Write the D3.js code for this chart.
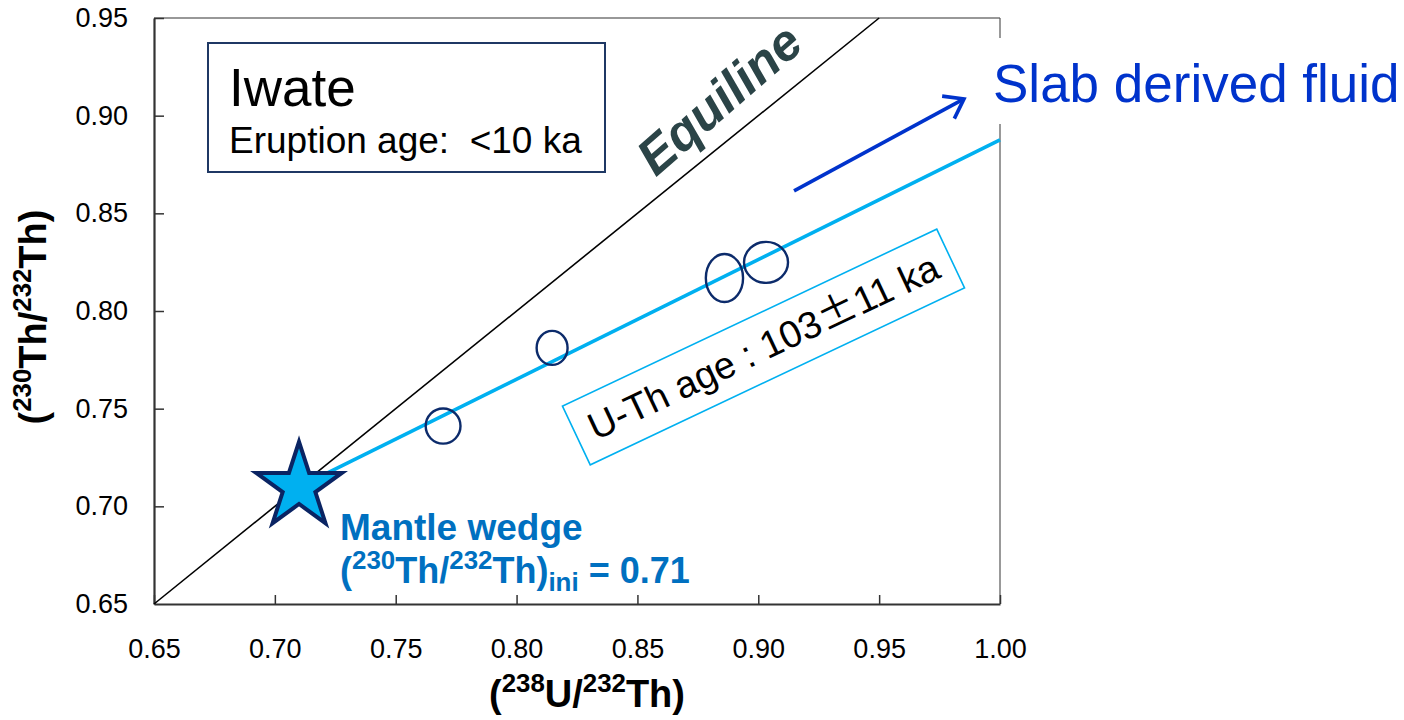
<!DOCTYPE html>
<html><head><meta charset="utf-8">
<script src="https://cdn.jsdelivr.net/npm/d3@7/dist/d3.min.js"></script>
<style>
html,body{margin:0;padding:0;background:#fff;}
svg{display:block;font-family:"Liberation Sans",Arial,sans-serif;}
</style></head>
<body>
<svg id="chart" width="1404" height="720"></svg>
<script>
// ---- data ----
const xTicks = [0.65,0.70,0.75,0.80,0.85,0.90,0.95,1.00];
const yTicks = [0.65,0.70,0.75,0.80,0.85,0.90,0.95];
// samples: (238U/232Th), (230Th/232Th), 2-sigma errors
const sampleU  = [0.7696, 0.8147, 0.8860, 0.9032];
const sampleTh = [0.7411, 0.7811, 0.8169, 0.8249];
const errU     = [0.0072, 0.0064, 0.0077, 0.0091];
const errTh    = [0.0090, 0.0087, 0.0123, 0.0105];
// mantle wedge initial composition
const mantleU = [0.71], mantleTh = [0.71];
// equiline and isochron end points
const equiU = [0.65, 0.95], equiTh = [0.65, 0.95];
const isoU  = [0.7216, 1.00], isoTh = [0.717, 0.8876];
// slab-fluid arrow (data units)
const arrowU = [0.9148, 0.9851], arrowTh = [0.8615, 0.9086];

const svg = d3.select("#chart");
const x = d3.scaleLinear().domain([0.65,1.00]).range([154,1000]);
const y = d3.scaleLinear().domain([0.65,0.95]).range([604,18]);

function rich(sel, parts, fs, supScale){
  const ss = supScale || 0.68;
  let shift = 0;
  parts.forEach(p=>{
    const t = sel.append("tspan").text(p.t);
    let target = 0, size = fs;
    if(p.sup){ target = -fs*0.40; size = fs*ss; }
    if(p.sub){ target = fs*0.22; size = fs*ss; }
    t.attr("font-size", size).attr("dy", target - shift);
    shift = target;
  });
}

// frame: top and right borders
svg.append("line").attr("x1",x(0.65)).attr("x2",x(1.0)).attr("y1",y(0.95)).attr("y2",y(0.95))
  .attr("stroke","#333").attr("stroke-width",1.2);
svg.append("line").attr("x1",x(1.0)).attr("x2",x(1.0)).attr("y1",y(0.95)).attr("y2",y(0.65))
  .attr("stroke","#555").attr("stroke-width",1.2);

// axes
const gx = svg.append("g").attr("transform",`translate(0,${y(0.65)})`)
  .call(d3.axisBottom(x).tickValues(xTicks).tickFormat(d3.format(".2f")).tickSizeInner(-9).tickSizeOuter(0).tickPadding(35));
const gy = svg.append("g").attr("transform",`translate(${x(0.65)},0)`)
  .call(d3.axisLeft(y).tickValues(yTicks).tickFormat(d3.format(".2f")).tickSizeInner(-10).tickSizeOuter(0).tickPadding(26));
[gx,gy].forEach(g=>{
  g.select(".domain").attr("stroke","#333").attr("stroke-width",2.2);
  g.selectAll(".tick line").attr("stroke","#333").attr("stroke-width",1.5);
  g.selectAll(".tick text").attr("font-size",27).attr("fill","#000")
    .attr("font-family","'Liberation Sans',Arial,sans-serif");
});
gy.selectAll(".tick").filter(d=>d===0.65).select("line").remove();

// equiline
svg.append("line").attr("x1",x(equiU[0])).attr("y1",y(equiTh[0])).attr("x2",x(equiU[1])).attr("y2",y(equiTh[1]))
  .attr("stroke","#000").attr("stroke-width",1.6);

// isochron
svg.append("line").attr("x1",x(isoU[0])).attr("y1",y(isoTh[0])).attr("x2",x(isoU[1])).attr("y2",y(isoTh[1]))
  .attr("stroke","#00B0F0").attr("stroke-width",3.6);

// white patch behind slab text (covers right border)
svg.append("rect").attr("x",988).attr("y",38).attr("width",416).attr("height",86).attr("fill","#fff");

// sample error ellipses
svg.append("g").selectAll("ellipse").data(sampleU.map((u,i)=>i)).join("ellipse")
  .attr("cx",i=>x(sampleU[i])).attr("cy",i=>y(sampleTh[i]))
  .attr("rx",i=>x(sampleU[i]+errU[i])-x(sampleU[i]))
  .attr("ry",i=>y(sampleTh[i])-y(sampleTh[i]+errTh[i]))
  .attr("fill","none").attr("stroke","#0C2B6B").attr("stroke-width",2.4);

// star
const R = 45;
function starPath(r){
  const pts=[];
  for(let k=0;k<10;k++){
    const rr = k%2===0 ? r : r*0.382;
    const a = -Math.PI/2 + k*Math.PI/5;
    pts.push([rr*Math.cos(a), rr*Math.sin(a)]);
  }
  return "M"+pts.map(p=>p.join(",")).join("L")+"Z";
}
svg.selectAll("path.star").data(mantleU.map((u,i)=>i)).join("path").attr("class","star")
  .attr("d",starPath(R)).attr("transform",i=>`translate(${x(mantleU[i])},${y(mantleTh[i])})`)
  .attr("fill","#00B0F0").attr("stroke","#0A2463").attr("stroke-width",4).attr("stroke-linejoin","miter");

// slab fluid arrow
const ax0=x(arrowU[0]), ay0=y(arrowTh[0]), ax1=x(arrowU[1]), ay1=y(arrowTh[1]);
const ang = Math.atan2(ay1-ay0, ax1-ax0), al = 22, aw = 0.62;
svg.append("line").attr("x1",ax0).attr("y1",ay0).attr("x2",ax1).attr("y2",ay1)
  .attr("stroke","#0033CC").attr("stroke-width",3.6);
svg.append("path").attr("d",
  `M${ax1-al*Math.cos(ang-aw)},${ay1-al*Math.sin(ang-aw)}L${ax1},${ay1}L${ax1-al*Math.cos(ang+aw)},${ay1-al*Math.sin(ang+aw)}`)
  .attr("fill","none").attr("stroke","#0033CC").attr("stroke-width",3.6).attr("stroke-linejoin","miter");
svg.append("text").attr("x",993).attr("y",102).attr("font-size",53).attr("fill","#0033CC").text("Slab derived fluid");

// Iwate box
svg.append("rect").attr("x",208).attr("y",43).attr("width",397).attr("height",129)
  .attr("fill","#fff").attr("stroke","#1F3864").attr("stroke-width",2);
svg.append("text").attr("x",229).attr("y",106).attr("font-size",53).attr("fill","#000").text("Iwate");
svg.append("text").attr("x",229).attr("y",153).attr("font-size",37).attr("fill","#000")
  .attr("xml:space","preserve").style("white-space","pre").text("Eruption age:  <10 ka");

// Equiline label
svg.append("text").attr("transform","translate(719,99) rotate(-41)").attr("text-anchor","middle")
  .attr("dy","0.35em").attr("font-size",51).attr("font-weight","bold").attr("font-style","italic")
  .attr("fill","#2B4447").text("Equiline");

// U-Th age box
const bx = 763.5, by = 347, bang = -25.3;
const bg = svg.append("g").attr("transform",`translate(${bx},${by}) rotate(${bang})`);
bg.append("rect").attr("x",-207).attr("y",-32.5).attr("width",414).attr("height",65)
  .attr("fill","none").attr("stroke","#00B0F0").attr("stroke-width",1.6);
const ut = bg.append("text").attr("text-anchor","middle").attr("y",13).attr("font-size",38).attr("fill","#000")
  .attr("xml:space","preserve").style("white-space","pre");
ut.append("tspan").text("U-Th age : 103");
ut.append("tspan").attr("font-family","'Noto Sans CJK JP',sans-serif").attr("font-size",40).text("±");
ut.append("tspan").text("11 ka");

// Mantle wedge label
svg.append("text").attr("x",340).attr("y",540).attr("font-size",37).attr("font-weight","bold")
  .attr("fill","#0070C0").text("Mantle wedge");
const ml = svg.append("text").attr("x",340).attr("y",583).attr("font-weight","bold").attr("fill","#0070C0");
rich(ml,[{t:"("},{t:"230",sup:1},{t:"Th/"},{t:"232",sup:1},{t:"Th)"},{t:"ini",sub:1},{t:" = 0.71"}],36,0.72);

// axis titles
const xt = svg.append("text").attr("x",587).attr("y",707).attr("text-anchor","middle").attr("font-weight","bold").attr("fill","#000");
rich(xt,[{t:"("},{t:"238",sup:1},{t:"U/"},{t:"232",sup:1},{t:"Th)"}],38);
const yt = svg.append("text").attr("transform","translate(46,317) rotate(-90)").attr("text-anchor","middle").attr("font-weight","bold").attr("fill","#000");
rich(yt,[{t:"("},{t:"230",sup:1},{t:"Th/"},{t:"232",sup:1},{t:"Th)"}],38);
</script>
</body></html>
